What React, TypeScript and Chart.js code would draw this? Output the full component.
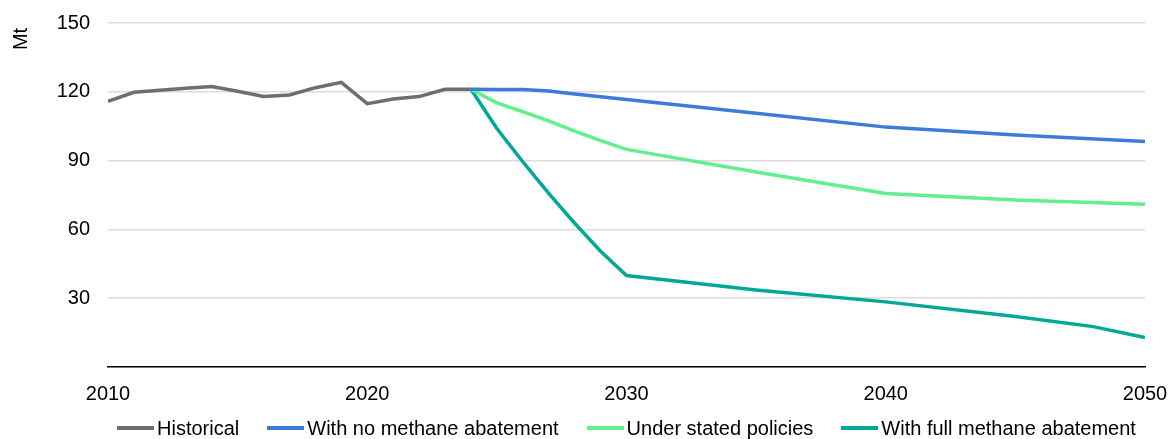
import React, { useEffect, useRef } from "react";
import { Chart, registerables } from "chart.js";

Chart.register(...registerables);

const FONT = "'Liberation Sans', Arial, sans-serif";

const historicalYears = [2010, 2011, 2012, 2013, 2014, 2015, 2016, 2017, 2018, 2019, 2020, 2021, 2022, 2023, 2024];
const historicalValues = [115.8, 119.8, 120.7, 121.5, 122.3, 120.2, 118.0, 118.6, 121.8, 124.1, 114.8, 116.9, 117.9, 121.1, 121.1];

const noAbatementYears = [2024, 2025, 2026, 2027, 2028, 2029, 2030, 2035, 2040, 2045, 2050];
const noAbatementValues = [121.1, 121.0, 121.0, 120.3, 119.0, 117.8, 116.6, 110.6, 104.6, 101.2, 98.3];

const statedYears = [2024, 2025, 2026, 2027, 2028, 2029, 2030, 2035, 2040, 2045, 2050];
const statedValues = [121.1, 115.2, 111.3, 107.3, 102.9, 98.7, 94.9, 85.0, 75.7, 72.8, 71.0];

const fullAbatementYears = [2024, 2025, 2026, 2027, 2028, 2029, 2030, 2035, 2040, 2045, 2048, 2050];
const fullAbatementValues = [121.1, 104.0, 89.5, 75.7, 62.7, 50.5, 39.9, 33.6, 28.4, 22.0, 17.6, 12.8];

const seriesNames = ["Historical", "With no methane abatement", "Under stated policies", "With full methane abatement"];
const seriesColors = ["#6e6e6e", "#3d7bd9", "#62f08f", "#00a996"];

const yTicks = [0, 30, 60, 90, 120, 150];
const xTicks = [2010, 2020, 2030, 2040, 2050];
const yUnit = "Mt";

const toPoints = (xs: number[], ys: number[]) => xs.map((x, i) => ({ x, y: ys[i] }));

export default function App() {
  const canvasRef = useRef<HTMLCanvasElement | null>(null);

  useEffect(() => {
    document.body.style.margin = "0";
    const canvas = canvasRef.current;
    if (!canvas) return;

    const unitPlugin = {
      id: "unitLabel",
      afterDraw(chart: any) {
        const ctx = chart.ctx;
        ctx.save();
        ctx.translate(21, chart.chartArea.top + 16);
        ctx.rotate(-Math.PI / 2);
        ctx.font = `20px ${FONT}`;
        ctx.fillStyle = "#000";
        ctx.textAlign = "center";
        ctx.textBaseline = "middle";
        ctx.fillText(yUnit, 0, 0);
        ctx.restore();
      },
    };

    const allData = [
      toPoints(historicalYears, historicalValues),
      toPoints(noAbatementYears, noAbatementValues),
      toPoints(statedYears, statedValues),
      toPoints(fullAbatementYears, fullAbatementValues),
    ];

    const chart = new Chart(canvas, {
      type: "line",
      data: {
        datasets: allData.map((d, i) => ({
          label: seriesNames[i],
          data: d,
          borderColor: seriesColors[i],
          backgroundColor: seriesColors[i],
          borderWidth: 3.5,
          pointRadius: 0,
          tension: 0,
          fill: false,
        })),
      },
      options: {
        responsive: false,
        animation: false,
        layout: { padding: { left: 0, right: 24, top: 23, bottom: 0 } },
        plugins: {
          legend: { display: false },
          tooltip: { enabled: false },
        },
        scales: {
          x: {
            type: "linear",
            min: xTicks[0],
            max: xTicks[xTicks.length - 1],
            afterBuildTicks: (scale: any) => {
              scale.ticks = xTicks.map((v) => ({ value: v }));
            },
            afterFit: (scale: any) => {
              scale.height = 72;
              scale.paddingLeft = 0;
              scale.paddingRight = 0;
            },
            grid: { display: false, drawTicks: false },
            border: { display: true, color: "#000", width: 1.5 },
            ticks: {
              padding: 15,
              color: "#000",
              font: { family: FONT, size: 20 },
              maxRotation: 0,
              callback: (v: any) => String(v),
            },
          },
          y: {
            min: yTicks[0],
            max: yTicks[yTicks.length - 1],
            afterBuildTicks: (scale: any) => {
              scale.ticks = yTicks.map((v) => ({ value: v }));
            },
            afterFit: (scale: any) => {
              scale.width = 108;
              scale.paddingTop = 0;
              scale.paddingBottom = 0;
            },
            grid: {
              color: "#dcdcdc",
              lineWidth: 1.5,
              drawTicks: false,
            },
            border: { display: false },
            ticks: {
              padding: 18,
              color: "#000",
              font: { family: FONT, size: 20 },
              callback: (v: any) => (v === 0 ? "" : String(v)),
            },
          },
        },
      },
      plugins: [unitPlugin],
    } as any);

    return () => chart.destroy();
  }, []);

  return (
    <div style={{ position: "relative", width: 1169, height: 439, overflow: "hidden", background: "#fff" }}>
      <canvas ref={canvasRef} width={1169} height={439} style={{ display: "block" }} />
      <div
        style={{
          position: "absolute",
          left: 108,
          width: 1037,
          top: 416,
          height: 24,
          display: "flex",
          justifyContent: "center",
          alignItems: "center",
          fontFamily: FONT,
          fontSize: 20,
          color: "#000",
          whiteSpace: "nowrap",
        }}
      >
        {seriesNames.map((name, i) => (
          <div key={name} style={{ display: "flex", alignItems: "center", marginLeft: i === 0 ? 0 : 28 }}>
            <span style={{ display: "inline-block", width: 37, height: 4, background: seriesColors[i], marginRight: 3 }} />
            <span>{name}</span>
          </div>
        ))}
      </div>
    </div>
  );
}
